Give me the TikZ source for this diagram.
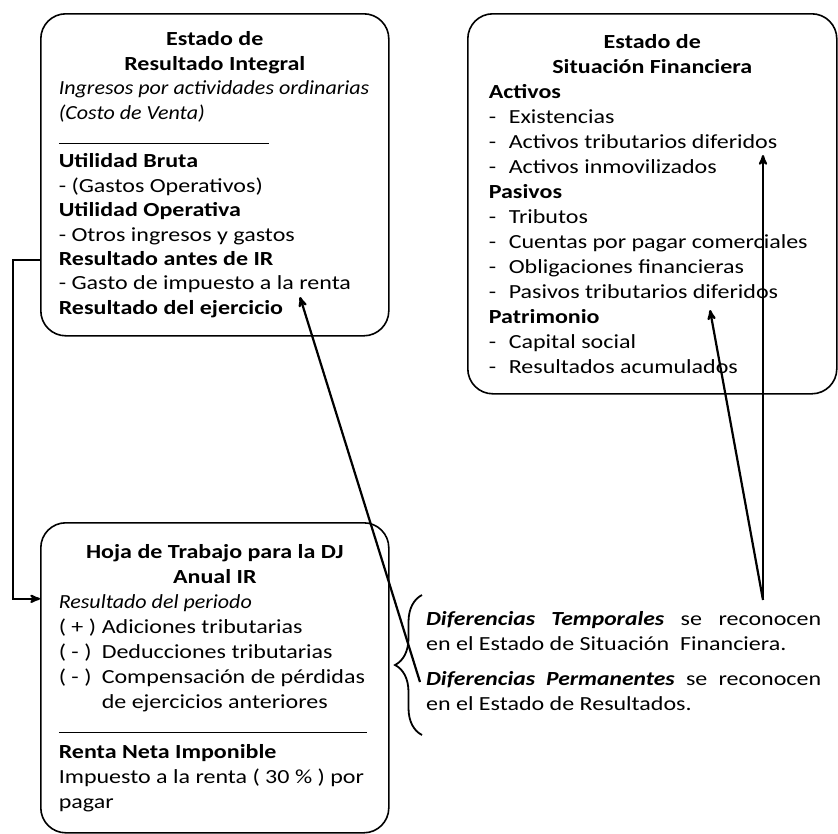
\documentclass[tikz,border=0pt]{standalone}
\usepackage{fontspec}
\setmainfont{Carlito}[FakeStretch=1.2, ItalicFeatures={FakeStretch=1.1}, BoldItalicFeatures={FakeStretch=1.18}]
\usetikzlibrary{arrows,decorations.pathreplacing}

\begin{document}
\begin{tikzpicture}[x=1pt,y=-1pt,->,>=stealth',line width=2.2pt,font=\fontsize{20}{24.4}\selectfont]
\tikzstyle{caja} = [draw, -, line width=1.6pt, rounded corners=25pt, anchor=north west, inner xsep=18pt, inner ysep=0pt, align=flush left]
\tikzstyle{nota} = [anchor=north west, inner sep=0pt, text width=395pt, align=justify, font=\fontsize{20}{25}\selectfont]
\useasboundingbox (0,0) rectangle (838,833);

% estado de resultados
\node[caja, minimum width=348pt, minimum height=322pt, text width=312pt] (res) at (40,13) {%
{\centering\bfseries Estado de\\ Resultado Integral\par}
\mbox{\textit{Ingresos por actividades ordinarias}}\\
\textit{(Costo de Venta)}\\
\rule{210pt}{1pt}\\
\textbf{Utilidad Bruta}\\
- (Gastos Operativos)\\
\textbf{Utilidad Operativa}\\
- Otros ingresos y gastos\\
\textbf{Resultado antes de IR}\\
- Gasto de impuesto a la renta\\
\textbf{Resultado del ejercicio}};

% estado de situacion financiera
\node[caja, minimum width=369pt, minimum height=380pt, text width=327pt, inner xsep=21pt,
      font=\fontsize{20}{25}\selectfont] (sit) at (467,13) {%
{\centering\bfseries Estado de\\ Situación Financiera\par}
\textbf{Activos}\\
\makebox[20pt][l]{-}Existencias\\
\makebox[20pt][l]{-}Activos tributarios diferidos\\
\makebox[20pt][l]{-}Activos inmovilizados\\
\textbf{Pasivos}\\
\makebox[20pt][l]{-}Tributos\\
\makebox[20pt][l]{-}Cuentas por pagar comerciales\\
\makebox[20pt][l]{-}Obligaciones financieras\\
\makebox[20pt][l]{-}Pasivos tributarios diferidos\\
\textbf{Patrimonio}\\
\makebox[20pt][l]{-}Capital social\\
\makebox[20pt][l]{-}Resultados acumulados};

% hoja de trabajo
\node[caja, minimum width=348pt, minimum height=310pt, text width=312pt, inner xsep=17pt,
      font=\fontsize{20}{25}\selectfont] (hoja) at (40,522) {%
{\centering\bfseries Hoja de Trabajo para la DJ\\ Anual IR\par}
\textit{Resultado del periodo}\\
\makebox[43pt][l]{( + )}Adiciones tributarias\\
\makebox[43pt][l]{( - )}Deducciones tributarias\\
\makebox[43pt][l]{( - )}Compensación de pérdidas\\
\hspace*{43pt}de ejercicios anteriores\\
\rule{308pt}{1pt}\\
\textbf{Renta Neta Imponible}\\
Impuesto a la renta ( 30 \% ) por\\
pagar};

% diferencias
\node[nota] (tempo) at (425,610) {\textbf{\textit{Diferencias Temporales}} se reconocen\linebreak en el Estado de Situación~ Financiera.};
\node[nota] (perma) at (425,670) {\textbf{\textit{Diferencias Permanentes}} se reconocen\linebreak en el Estado de Resultados.};
\draw[-, line width=1.8pt, decorate, decoration={brace,amplitude=27pt}] (422,735) -- (422,595);

\coordinate (ejer) at (300,297);
\coordinate (orig) at (763,600);
\coordinate (atd) at (763,155);
\coordinate (ptd) at (710,310);

\draw ([yshift=-85pt]res.west) -- ++(-27,0) |- ([yshift=79pt]hoja.west);
\draw ([shift={(-5pt,-12pt)}]perma.north west) -- (ejer);
\draw (orig) -- (atd);
\draw (orig) -- (ptd);

\end{tikzpicture}
\end{document}
